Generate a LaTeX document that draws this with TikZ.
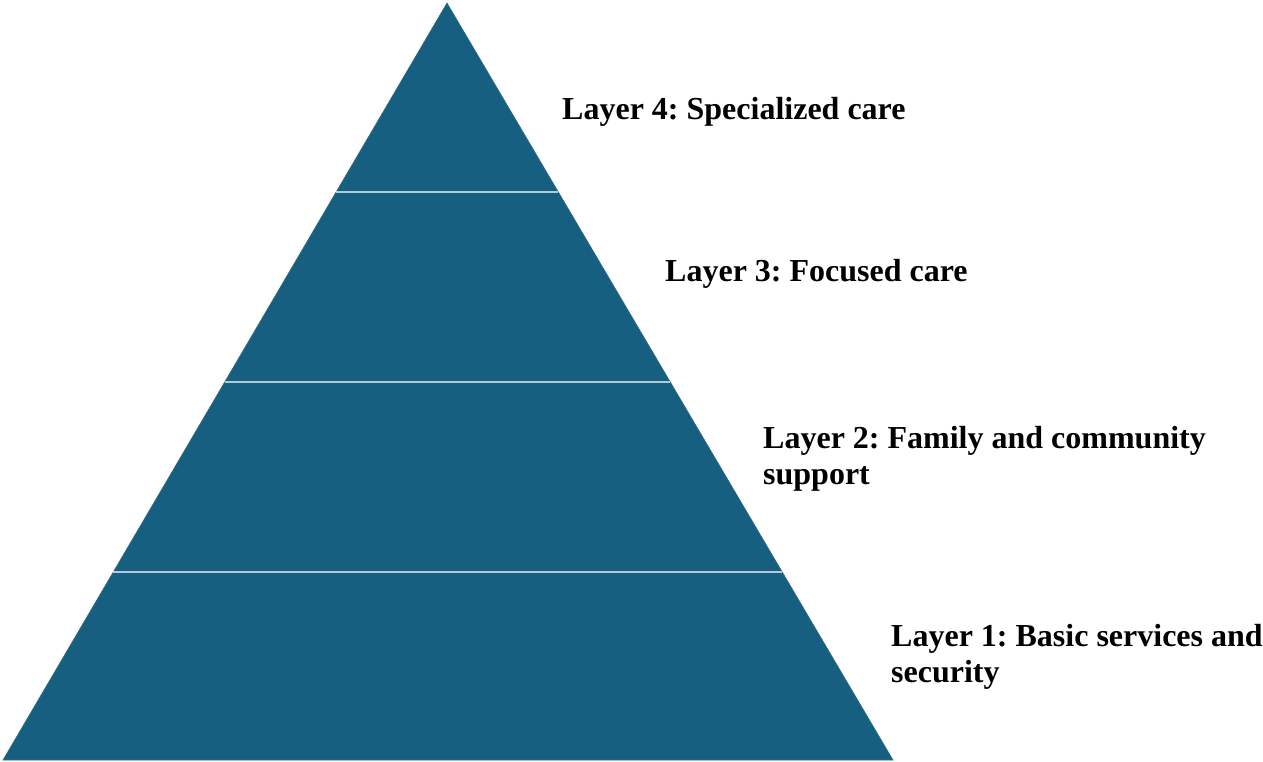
\documentclass[tikz,border=0pt]{standalone}
\usepackage{fontspec}
\setmainfont{Liberation Serif}
\usetikzlibrary{calc}
\definecolor{pyr}{RGB}{23,95,128}
\definecolor{sep}{RGB}{178,202,216}
\tikzset{
  layerlabel/.style={anchor=base west, inner sep=0pt, align=left,
    font=\fontsize{32}{35.5}\selectfont\bfseries\frenchspacing},
  sepline/.style={draw=sep, line width=1.5pt}
}
\begin{document}
\begin{tikzpicture}[x=1pt,y=-1pt]
\useasboundingbox (0,0) rectangle (1263,761);
\coordinate (apex) at (447,3);
\coordinate (bl) at (3,760);
\coordinate (br) at (893,760);
\fill[pyr, draw=pyr!70!gray, line width=0.6pt] (apex) -- (bl) -- (br) -- cycle;
\foreach \t/\n in {0.24967/a,0.50066/b,0.75165/c}{
  \coordinate (L\n) at ($(apex)!\t!(bl)$);
  \coordinate (R\n) at ($(apex)!\t!(br)$);
  \draw[sepline] (L\n) -- (R\n);
}
\node[layerlabel] (l4) at (562,119.5) {Layer 4: Specialized care};
\node[layerlabel] (l3) at (665,281) {Layer 3: Focused care};
\node[layerlabel] (l2) at (763,484) {Layer 2: Family and community\\support};
\node[layerlabel] (l1) at (891,682) {Layer 1: Basic services and\\security};
\end{tikzpicture}
\end{document}
